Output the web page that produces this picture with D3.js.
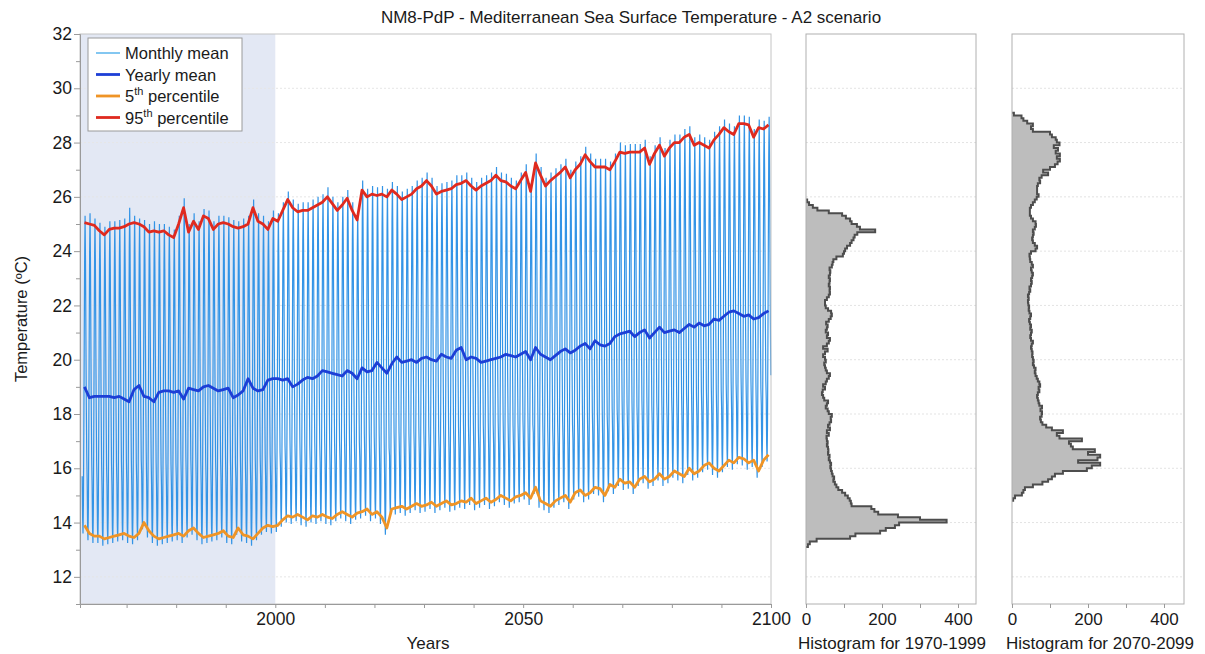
<!DOCTYPE html>
<html>
<head>
<meta charset="utf-8">
<script src="https://cdn.jsdelivr.net/npm/d3@7"></script>
<style>
body { margin: 0; background: #fff; font-family: "Liberation Sans", Arial, sans-serif; }
</style>
</head>
<body>
<script>
// yearly series, 1961 .. 2099
const firstYear = 1961;
const p95 = [25.05,25.0,24.95,24.75,24.6,24.8,24.85,24.85,24.9,25.0,25.05,25.0,24.9,24.7,24.75,24.7,24.75,24.6,24.5,25.0,
  25.6,24.7,25.1,24.8,25.3,25.2,24.8,25.0,25.05,25.0,24.9,24.85,24.9,25.0,25.6,25.1,25.0,24.8,25.2,25.1,
  25.5,25.9,25.6,25.45,25.5,25.5,25.6,25.7,25.8,26.0,25.75,25.5,25.7,25.95,25.5,25.15,26.25,26.0,26.1,26.05,
  26.1,26.0,26.25,26.1,25.9,26.0,26.1,26.3,26.4,26.6,26.4,26.1,26.2,26.25,26.3,26.45,26.5,26.6,26.4,26.25,
  26.4,26.5,26.6,26.8,26.6,26.55,26.4,26.3,26.6,26.9,26.2,27.25,26.8,26.4,26.6,26.75,26.9,27.1,26.7,27.0,
  27.2,27.55,27.3,27.1,27.1,27.1,27.0,27.3,27.65,27.6,27.65,27.65,27.65,27.8,27.2,27.6,27.9,27.5,27.8,28.0,
  28.0,28.2,28.3,27.9,28.0,27.9,27.8,28.1,28.3,28.55,28.4,28.3,28.7,28.7,28.65,28.2,28.55,28.5,28.65];
const p5 = [13.9,13.6,13.5,13.5,13.4,13.45,13.5,13.55,13.6,13.5,13.45,13.6,14.0,13.7,13.5,13.4,13.45,13.5,13.55,13.6,
  13.5,13.7,13.8,13.6,13.45,13.5,13.55,13.6,13.7,13.5,13.45,13.8,13.55,13.5,13.4,13.6,13.8,13.9,13.85,13.9,
  14.1,14.25,14.2,14.3,14.2,14.1,14.25,14.2,14.3,14.2,14.15,14.3,14.4,14.3,14.2,14.35,14.4,14.5,14.3,14.4,
  14.2,13.8,14.5,14.55,14.6,14.5,14.6,14.7,14.6,14.65,14.75,14.6,14.7,14.8,14.65,14.7,14.8,14.75,14.9,14.7,
  14.8,14.9,14.75,14.85,15.0,14.9,14.8,14.95,15.0,15.1,14.9,15.3,14.8,14.7,14.6,14.8,14.9,15.0,14.75,15.1,
  15.2,15.0,15.1,15.3,15.25,15.0,15.4,15.3,15.6,15.45,15.5,15.3,15.6,15.7,15.5,15.6,15.8,15.6,15.7,15.9,
  15.8,15.7,16.0,15.8,15.9,16.1,16.2,16.0,15.9,16.1,16.3,16.2,16.4,16.35,16.2,16.3,15.9,16.3,16.5];
const yearlyMean = [19.0,18.6,18.65,18.65,18.65,18.65,18.6,18.65,18.55,18.45,18.9,19.05,18.65,18.6,18.45,18.8,18.85,18.85,18.8,18.85,
  18.55,18.95,18.9,18.85,19.0,19.05,18.95,18.85,18.9,18.95,18.6,18.7,18.85,19.3,18.95,18.85,18.9,19.25,19.3,19.3,
  19.25,19.3,19.0,19.1,19.25,19.35,19.3,19.4,19.6,19.55,19.5,19.45,19.4,19.6,19.5,19.3,19.7,19.55,19.6,19.9,
  19.7,19.5,19.85,20.1,19.9,19.95,20.0,19.9,20.05,20.1,20.0,19.95,20.2,20.1,20.05,20.35,20.45,20.0,20.1,20.05,
  19.9,19.95,20.0,20.05,20.1,20.2,20.15,20.1,20.2,20.3,20.0,20.45,20.2,20.1,20.0,20.15,20.3,20.4,20.25,20.35,
  20.5,20.6,20.4,20.7,20.55,20.5,20.6,20.85,20.95,21.0,21.05,20.85,21.0,21.1,20.8,21.0,21.2,21.0,21.05,21.1,
  21.0,21.15,21.3,21.2,21.35,21.25,21.3,21.5,21.45,21.6,21.75,21.8,21.7,21.6,21.65,21.5,21.55,21.7,21.8];
// highest and lowest monthly value of each year
const monthTop = [25.3,25.4,25.2,25.05,24.9,25.1,25.1,25.15,25.2,25.6,25.3,25.2,25.15,25.0,25.1,25.0,25.0,24.9,24.8,25.3,
  25.95,25.0,25.4,25.1,25.55,25.5,25.1,25.3,25.3,25.25,25.15,25.1,25.2,25.3,25.9,25.4,25.3,25.1,25.5,25.4,
  25.8,26.2,25.9,25.75,25.8,25.8,25.9,26.0,26.1,26.35,26.0,25.8,26.0,26.25,25.8,25.45,26.6,26.3,26.4,26.35,
  26.4,26.3,26.55,26.4,26.2,26.3,26.4,26.6,26.7,26.9,26.7,26.4,26.5,26.55,26.6,26.8,26.8,26.9,26.7,26.55,
  26.7,26.8,26.9,27.1,26.9,26.85,26.7,26.6,26.9,27.2,26.5,27.6,27.1,26.7,26.9,27.05,27.2,27.4,27.0,27.3,
  27.5,27.85,27.6,27.4,27.4,27.4,27.3,27.6,28.0,27.9,27.95,27.95,27.95,28.1,27.5,27.9,28.2,27.8,28.1,28.3,
  28.3,28.5,28.6,28.2,28.3,28.2,28.1,28.4,28.6,28.85,28.7,28.6,29.0,29.0,28.95,28.5,28.85,28.8,28.95];
const monthBottom = [13.6,13.35,13.25,13.25,13.15,13.2,13.25,13.3,13.35,13.25,13.2,13.35,13.75,13.45,13.25,13.15,13.2,13.25,13.3,13.35,
  13.25,13.45,13.55,13.35,13.2,13.25,13.3,13.35,13.45,13.25,13.2,13.55,13.3,13.25,13.15,13.35,13.55,13.65,13.6,13.65,
  13.85,14.0,13.95,14.05,13.9,13.85,14.0,13.95,14.05,13.95,13.9,14.05,14.15,14.05,13.95,14.1,14.15,14.25,14.05,14.15,
  13.95,13.55,14.25,14.3,14.35,14.25,14.35,14.45,14.35,14.4,14.5,14.35,14.45,14.55,14.4,14.45,14.55,14.5,14.65,14.45,
  14.55,14.65,14.5,14.6,14.75,14.65,14.55,14.7,14.75,14.85,14.65,15.05,14.55,14.45,14.35,14.55,14.65,14.75,14.5,14.85,
  14.95,14.75,14.85,15.05,15.0,14.75,15.15,15.05,15.35,15.2,15.25,15.05,15.35,15.45,15.25,15.35,15.55,15.35,15.45,15.65,
  15.55,15.45,15.75,15.55,15.65,15.85,15.95,15.75,15.65,15.85,16.05,15.95,16.15,16.1,15.95,16.05,15.65,16.05,16.25];
// where each month sits between the year's low and high
const seasonShape = [0.18,0.05,0.0,0.1,0.33,0.62,0.88,1.0,0.86,0.62,0.4,0.25];

// histograms of daily values, 0.1 degree bins
const binWidth = 0.1;
const hist1Start = 13.1;
const hist1 = [5,10,28,116,130,195,210,234,245,370,300,242,190,180,172,120,118,115,110,103,
  95,85,80,76,72,74,70,68,66,64,66,63,60,62,58,59,58,55,57,55,
  54,60,55,63,58,62,66,65,68,60,57,52,55,58,48,45,42,44,50,45,
  52,55,60,63,55,52,50,48,52,50,45,50,57,45,55,60,63,55,58,52,
  55,57,53,60,65,68,66,58,52,50,50,55,60,63,62,63,60,62,63,60,
  63,64,62,68,70,72,80,97,100,103,108,116,120,125,128,135,182,142,134,120,
  116,105,95,60,30,18,8,3];
const hist2Start = 14.8;
const hist2 = [3,8,26,30,34,55,80,95,105,113,134,197,210,232,174,225,232,200,218,160,
  155,150,184,125,118,134,105,90,80,76,74,78,79,75,79,72,70,68,66,68,
  72,70,74,72,68,65,62,60,62,58,55,57,55,53,54,52,50,52,55,50,
  48,50,52,48,50,47,45,48,50,46,44,45,43,42,44,42,45,48,46,50,
  52,50,53,55,52,50,55,52,48,47,46,50,62,66,60,55,53,55,57,55,
  60,63,62,55,50,47,47,47,50,55,60,65,70,66,66,66,68,74,72,78,
  95,82,100,113,120,126,118,126,115,121,110,125,118,115,105,100,55,50,55,40,
  30,25,5];

const yTicks = [12, 14, 16, 18, 20, 22, 24, 26, 28, 30, 32];
const xTicks = [2000, 2050, 2100];
const histTicks = [0, 200, 400];

const W = 1205, H = 654;
const plotTop = 34, plotBottom = 604;
const main = { left: 80, right: 771 };
const panels = [
  { left: 806, right: 976, start: hist1Start, counts: hist1, labelX: 892, label: "Histogram for 1970-1999" },
  { left: 1012, right: 1184, start: hist2Start, counts: hist2, labelX: 1100, label: "Histogram for 2070-2099" }
];

const axisGrey = "#9a9a9a";
const textColor = "#1a1a1a";

let svg = d3.select("body").append("svg")
  .attr("width", W).attr("height", H)
  .style("font-family", "'Liberation Sans', Arial, sans-serif");

const y = d3.scaleLinear().domain([11, 32]).range([plotBottom, plotTop]);
const x = d3.scaleLinear().domain([1960.6, 2100]).range([main.left, main.right]);

// title
svg.append("text")
  .attr("x", 631).attr("y", 23)
  .attr("text-anchor", "middle")
  .style("font-size", "17px").style("fill", textColor)
  .text("NM8-PdP - Mediterranean Sea Surface Temperature - A2 scenario");

// ---------- main panel ----------
let g = svg.append("g");

g.append("rect")
  .attr("x", main.left).attr("y", y(32))
  .attr("width", x(2000) - main.left).attr("height", y(11) - y(32))
  .style("fill", "#e3e8f4");

g.selectAll(".grid")
  .data(yTicks.slice(0, -1))
  .enter().append("line")
  .attr("x1", main.left).attr("x2", main.right)
  .attr("y1", d => y(d)).attr("y2", d => y(d))
  .style("stroke", "#e6e6e6").style("stroke-dasharray", "2,2");

const years = d3.range(p95.length).map(i => firstYear + i);
const monthly = [];
years.forEach((yr, i) => {
  seasonShape.forEach((s, m) => {
    monthly.push({ t: yr + (m + 0.5) / 12, v: monthBottom[i] + s * (monthTop[i] - monthBottom[i]) });
  });
});

g.append("path")
  .datum(monthly)
  .attr("d", d3.line().x(d => x(d.t)).y(d => y(d.v)))
  .style("fill", "none").style("stroke", "#3394e6").style("stroke-width", 1.2);

const yearLine = (vals) => d3.line()
  .x((d, i) => x(years[i] + 0.5))
  .y(d => y(d))(vals);

[[yearlyMean, "#1d3fd6"], [p5, "#ef9426"], [p95, "#df2a1f"]].forEach(([vals, col]) => {
  g.append("path")
    .attr("d", yearLine(vals))
    .style("fill", "none").style("stroke", col)
    .style("stroke-width", 2.8).style("stroke-linejoin", "round");
});

g.append("rect")
  .attr("x", main.left).attr("y", plotTop)
  .attr("width", main.right - main.left).attr("height", plotBottom - plotTop)
  .style("fill", "none").style("stroke", "#c4c4c4");

// y axis
let yAxis = svg.append("g")
  .attr("transform", `translate(${main.left},0)`)
  .call(d3.axisLeft(y).tickValues(d3.range(11, 33)).tickSize(4).tickFormat(d => yTicks.includes(d) ? d : ""));
yAxis.selectAll(".tick line").filter(d => yTicks.includes(d)).attr("x2", -6);
yAxis.select(".domain").style("stroke", axisGrey);
yAxis.selectAll(".tick line").style("stroke", axisGrey);
yAxis.selectAll("text").style("font-size", "17.5px").style("fill", textColor).attr("x", -8);

svg.append("text")
  .attr("transform", `translate(27,${(plotTop + plotBottom) / 2}) rotate(-90)`)
  .attr("text-anchor", "middle")
  .style("font-size", "16.5px").style("fill", textColor)
  .text("Temperature (ºC)");

// x axis
let xAxis = svg.append("g")
  .attr("transform", `translate(0,${plotBottom})`)
  .call(d3.axisBottom(x).tickValues(d3.range(1970, 2101, 10)).tickSize(4).tickFormat(d => xTicks.includes(d) ? d : ""));
xAxis.select(".domain").style("stroke", axisGrey);
xAxis.selectAll(".tick line").style("stroke", axisGrey);
xAxis.selectAll("text").style("font-size", "17.5px").style("fill", textColor).attr("y", 9);

svg.append("text")
  .attr("x", 428).attr("y", 649)
  .attr("text-anchor", "middle")
  .style("font-size", "17px").style("fill", textColor)
  .text("Years");

// legend
let legend = svg.append("g").attr("transform", "translate(88,38)");
legend.append("rect")
  .attr("width", 154).attr("height", 93)
  .style("fill", "#fff").style("stroke", "#9a9a9a");
const legendItems = [
  { c: "#5ab4ec", w: 1.5, t: "Monthly mean" },
  { c: "#1d3fd6", w: 2.8, t: "Yearly mean" },
  { c: "#ef9426", w: 2.8, n: "5", t: " percentile" },
  { c: "#df2a1f", w: 2.8, n: "95", t: " percentile" }
];
legendItems.forEach((d, i) => {
  const ly = 15 + i * 21.5;
  legend.append("line")
    .attr("x1", 8).attr("x2", 32).attr("y1", ly).attr("y2", ly)
    .style("stroke", d.c).style("stroke-width", d.w);
  let tx = legend.append("text")
    .attr("x", 37).attr("y", ly + 6)
    .style("font-size", "16.5px").style("fill", textColor);
  if (d.n) {
    tx.append("tspan").text(d.n);
    tx.append("tspan").attr("dy", -7).style("font-size", "11px").text("th");
    tx.append("tspan").attr("dy", 7).text(d.t);
  } else {
    tx.text(d.t);
  }
});

// ---------- histogram panels ----------
panels.forEach(p => {
  const hx = d3.scaleLinear().domain([0, 450]).range([p.left, p.left + 450 * 0.38]);
  let hg = svg.append("g");

  hg.selectAll(".grid")
    .data(yTicks.slice(0, -1))
    .enter().append("line")
    .attr("x1", p.left).attr("x2", p.right)
    .attr("y1", d => y(d)).attr("y2", d => y(d))
    .style("stroke", "#e3e3e3").style("stroke-dasharray", "2,2");

  const pts = [[hx(0), y(p.start)]];
  p.counts.forEach((c, i) => {
    const lo = p.start + i * binWidth, hi = lo + binWidth;
    pts.push([hx(c), y(lo)], [hx(c), y(hi)]);
  });
  pts.push([hx(0), y(p.start + p.counts.length * binWidth)]);

  hg.append("path")
    .attr("d", d3.line()(pts))
    .style("fill", "#bdbdbd").style("stroke", "#4d4d4d")
    .style("stroke-width", 2).style("stroke-linejoin", "miter");

  hg.append("rect")
    .attr("x", p.left).attr("y", plotTop)
    .attr("width", p.right - p.left).attr("height", plotBottom - plotTop)
    .style("fill", "none").style("stroke", "#b0b0b0");

  let ha = svg.append("g")
    .attr("transform", `translate(0,${plotBottom})`)
    .call(d3.axisBottom(hx).tickValues([0, 100, 200, 300, 400]).tickSize(4).tickFormat(d => histTicks.includes(d) ? d : ""));
  ha.select(".domain").remove();
  ha.selectAll(".tick line").style("stroke", axisGrey);
  ha.selectAll("text").style("font-size", "17px").style("fill", textColor).attr("y", 9);

  svg.append("text")
    .attr("x", p.labelX).attr("y", 649)
    .attr("text-anchor", "middle")
    .style("font-size", "17px").style("fill", textColor)
    .text(p.label);
});
</script>
</body>
</html>
